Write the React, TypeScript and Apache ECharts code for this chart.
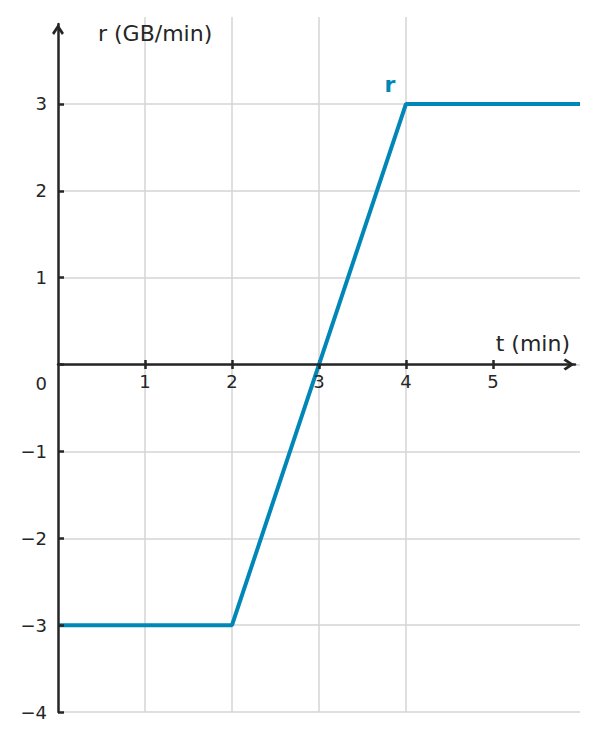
import { useEffect, useRef } from 'react';
import * as echarts from 'echarts';

// 数据
const tValues = [0, 2, 4, 6];
const rValues = [-3, -3, 3, 3];
const xTicks = [1, 2, 3, 4, 5];
const yTicks = [-4, -3, -2, -1, 0, 1, 2, 3];
const seriesName = 'r';
const xName = 't (min)';
const yName = 'r (GB/min)';

const BLUE = '#0087b7';
const INK = '#262626';
const GRID = '#d4d4d4';
const FONT = 'DejaVu Sans';

// 开口箭头（朝上）
const CHEVRON = 'path://M5,0L10,7.6L8.3,9.2L5,4.2L1.7,9.2L0,7.6Z';

function fmtNum(v: number) {
  return v < 0 ? '\u2212' + Math.abs(v) : String(v);
}

export default function App() {
  const chartRef = useRef<HTMLDivElement>(null);

  useEffect(() => {
    if (!chartRef.current) return;
    const chart = echarts.init(chartRef.current, null, { renderer: 'svg' });

    const option: echarts.EChartsOption = {
      animation: false,
      backgroundColor: '#ffffff',
      textStyle: { fontFamily: FONT },
      grid: [
        // y 轴显示
        { left: 58, right: 22, top: 24, bottom: 29 },
        // 数据与网格线
        { left: 58, right: 17, top: 17, bottom: 29 },
        // x 轴显示（底边在 r = 0 处）
        { left: 58, right: 22, top: 24, bottom: 376.5 },
      ],
      xAxis: [
        {
          type: 'value',
          gridIndex: 2,
          min: 0,
          max: 5.943,
          interval: 1,
          position: 'bottom',
          z: 5,
          name: xName,
          nameLocation: 'end',
          nameGap: -5,
          nameTextStyle: {
            fontFamily: FONT,
            fontSize: 22,
            color: INK,
            align: 'right',
            verticalAlign: 'bottom',
            padding: [0, 0, 10, 0],
          },
          axisLine: {
            onZero: false,
            lineStyle: { color: INK, width: 2.5 },
            symbol: ['none', CHEVRON],
            symbolSize: [12, 12],
            symbolOffset: [0, -6],
          },
          axisTick: {
            show: true,
            length: 4.5,
            customValues: xTicks,
            lineStyle: { color: INK, width: 2.5 },
          },
          axisLabel: {
            customValues: xTicks,
            fontFamily: FONT,
            fontSize: 18,
            color: INK,
            margin: 8,
            formatter: (v: number) => (xTicks.includes(v) ? fmtNum(v) : ''),
          },
          splitLine: { show: false },
        },
        {
          type: 'value',
          gridIndex: 1,
          min: 0,
          max: 6,
          interval: 1,
          position: 'top',
          axisLine: { show: false, onZero: true },
          axisTick: {
            show: true,
            length: 4.5,
            customValues: xTicks,
            lineStyle: { color: INK, width: 2.5 },
          },
          axisLabel: { show: false },
          splitLine: {
            show: true,
            showMaxLine: false,
            lineStyle: { color: GRID, width: 1.5 },
          },
        },
        {
          type: 'value',
          gridIndex: 0,
          min: 0,
          max: 6,
          show: false,
        },
      ],
      yAxis: [
        {
          type: 'value',
          gridIndex: 0,
          min: -4,
          max: 3.92,
          interval: 1,
          position: 'left',
          z: 5,
          name: yName,
          nameLocation: 'end',
          nameGap: -9,
          nameTextStyle: {
            fontFamily: FONT,
            fontSize: 22,
            color: INK,
            align: 'left',
            verticalAlign: 'middle',
            padding: [0, 0, 0, 40],
          },
          axisLine: {
            onZero: false,
            lineStyle: { color: INK, width: 2.5 },
            symbol: ['none', CHEVRON],
            symbolSize: [12, 11],
            symbolOffset: [0, -5.5],
          },
          axisTick: {
            show: true,
            inside: true,
            length: 6,
            customValues: yTicks,
            lineStyle: { color: INK, width: 2.5 },
          },
          axisLabel: {
            customValues: yTicks,
            fontFamily: FONT,
            fontSize: 18,
            color: INK,
            margin: 11,
            formatter: (v: number) => {
              if (!yTicks.includes(v)) return '';
              return v === 0 ? '{z|0}' : fmtNum(v);
            },
            rich: {
              z: {
                fontFamily: FONT,
                fontSize: 18,
                color: INK,
                padding: [38, 0, 0, 0],
              },
            },
          },
          splitLine: { show: false },
        },
        {
          type: 'value',
          gridIndex: 1,
          min: -4,
          max: 4,
          interval: 1,
          position: 'right',
          axisLine: { show: false },
          axisTick: { show: false },
          axisLabel: { show: false },
          splitLine: {
            show: true,
            showMaxLine: false,
            lineStyle: { color: GRID, width: 1.5 },
          },
        },
        {
          type: 'value',
          gridIndex: 2,
          min: 0,
          max: 4,
          show: false,
        },
      ],
      series: [
        {
          type: 'line',
          name: seriesName,
          xAxisIndex: 1,
          yAxisIndex: 1,
          data: tValues.map((t, i) => [t, rValues[i]]),
          showSymbol: false,
          symbol: 'none',
          z: 3,
          lineStyle: { color: BLUE, width: 4 },
          markPoint: {
            symbol: 'circle',
            symbolSize: 0,
            silent: true,
            data: [{ coord: [tValues[2], rValues[2]], value: 0 }],
            label: {
              show: true,
              formatter: seriesName,
              position: 'inside',
              offset: [-16, -19],
              fontFamily: FONT,
              fontSize: 22,
              fontWeight: 'bold',
              color: BLUE,
            },
          },
        },
      ],
    };

    chart.setOption(option);

    return () => {
      chart.dispose();
    };
  }, []);

  return (
    <div
      ref={chartRef}
      style={{ position: 'fixed', left: 0, top: 0, width: 597, height: 741 }}
    />
  );
}
